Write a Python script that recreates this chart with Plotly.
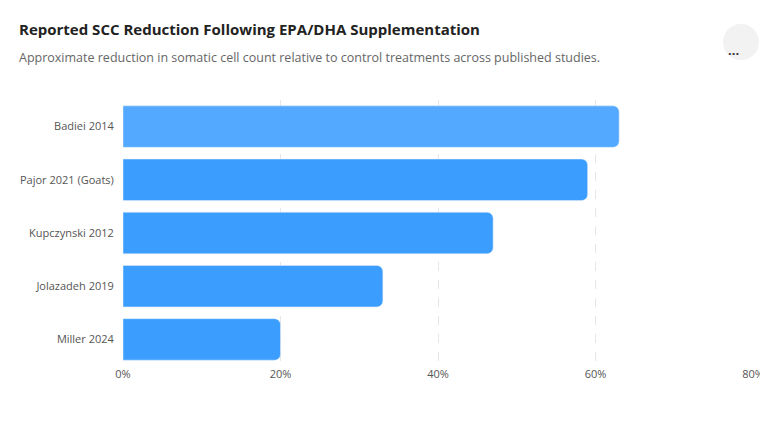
import plotly.graph_objects as go

studies = ['Miller 2024', 'Jolazadeh 2019', 'Kupczynski 2012', 'Pajor 2021 (Goats)', 'Badiei 2014']
reduction = [20, 33, 47, 59, 63]
bar_colors = ['#3b9eff', '#3b9eff', '#3b9eff', '#3b9eff', '#52a9ff']
tick_vals = [0, 20, 40, 60, 80]
tick_text = ['0%', '20%', '40%', '60%', '80%']

fig = go.Figure(go.Bar(x=reduction, y=studies, orientation='h',
                       marker=dict(color=bar_colors, cornerradius=6),
                       width=0.78))

fig.update_layout(width=768, height=432,
                  margin=dict(l=104, r=14, t=92, b=74),
                  plot_bgcolor='white', paper_bgcolor='white',
                  font=dict(family='Open Sans', size=11, color='#555'),
                  showlegend=False)

fig.update_xaxes(range=[0, 80], tickvals=tick_vals, ticktext=tick_text,
                 showgrid=True, gridcolor='#e6e6e6', griddash='dash',
                 zeroline=False, ticks='', ticklen=0)
fig.update_yaxes(ticks='outside', ticklen=6, tickcolor='white', showgrid=False)

fig.add_annotation(text='<b>Reported SCC Reduction Following EPA/DHA Supplementation</b>',
                   x=0, y=1, xref='paper', yref='paper', xanchor='left', yanchor='top',
                   xshift=-106, yshift=83, showarrow=False,
                   font=dict(size=15, color='#222'))
fig.add_annotation(text='Approximate reduction in somatic cell count relative to control treatments across published studies.',
                   x=0, y=1, xref='paper', yref='paper', xanchor='left', yanchor='top',
                   xshift=-106, yshift=53, showarrow=False,
                   font=dict(size=12.5, color='#666'))
fig.add_shape(type='circle', xref='paper', yref='paper', xsizemode='pixel', ysizemode='pixel',
              xanchor=1, yanchor=1, x0=-30, x1=6, y0=40, y1=76,
              fillcolor='#f2f2f2', line=dict(width=0))
fig.add_annotation(text='<b>···</b>', x=1, y=1, xref='paper', yref='paper',
                   xshift=-12, yshift=58, showarrow=False, font=dict(size=13, color='#333'))

fig.write_html("out.html")
